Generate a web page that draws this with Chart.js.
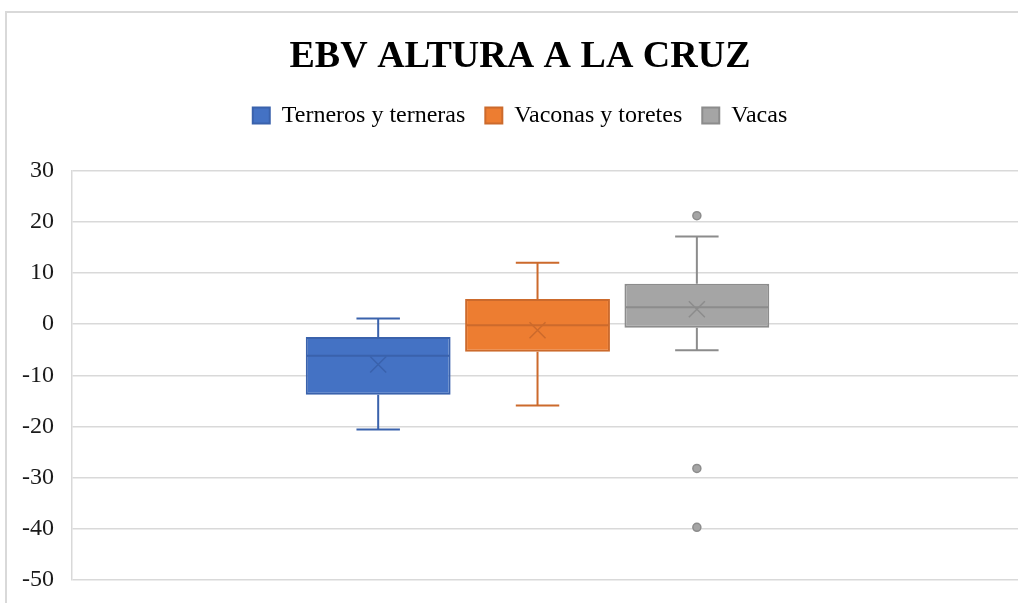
<!DOCTYPE html>
<html>
<head>
<meta charset="utf-8">
<script src="https://cdn.jsdelivr.net/npm/chart.js@4.4.0/dist/chart.umd.min.js"></script>
<style>
    html, body { margin: 0; padding: 0; background: #fff; overflow: hidden; }
    #frame {
        position: absolute;
        left: 5px;
        top: 11px;
        width: 2000px;
        height: 2000px;
        border: 2px solid #d9d9d9;
    }
    #wrap { position: absolute; left: 0; top: 0; width: 1018px; height: 603px; }
</style>
</head>
<body>
<div id="frame"></div>
<div id="wrap"><canvas id="boxChart"></canvas></div>
<script>
const groups = ["Terneros y terneras", "Vaconas y toretes", "Vacas"];
const minValues = [-20.6, -15.9, -5.1];
const q1Values = [-13.8, -5.4, -0.7];
const medianValues = [-6.2, -0.2, 3.3];
const q3Values = [-2.5, 4.9, 7.9];
const maxValues = [1.1, 12.0, 17.1];
const meanValues = [-7.9, -1.2, 2.9];
const outlierValues = [[], [], [21.2, -28.2, -39.7]];

const fillColors = ["#4472C4", "#ED7D31", "#A5A5A5"];
const lineColors = ["#3A62AC", "#CC6A2C", "#8C8C8C"];

const serif = "'Liberation Serif', 'Times New Roman', serif";

// whiskers, median, mean and outliers drawn on top of the floating bars
const boxExtras = {
    id: "boxExtras",
    afterDatasetsDraw(chart) {
        const ctx = chart.ctx;
        const y = chart.scales.y;
        groups.forEach((g, i) => {
            const bar = chart.getDatasetMeta(i).data[0];
            if (!bar) return;
            const cx = bar.x;
            const half = bar.width / 2;
            const cap = bar.width * 0.15;
            ctx.save();
            ctx.strokeStyle = lineColors[i];
            ctx.lineWidth = 2;
            ctx.beginPath();
            // upper whisker
            ctx.moveTo(cx, y.getPixelForValue(q3Values[i]));
            ctx.lineTo(cx, y.getPixelForValue(maxValues[i]));
            ctx.moveTo(cx - cap, y.getPixelForValue(maxValues[i]));
            ctx.lineTo(cx + cap, y.getPixelForValue(maxValues[i]));
            // lower whisker
            ctx.moveTo(cx, y.getPixelForValue(q1Values[i]));
            ctx.lineTo(cx, y.getPixelForValue(minValues[i]));
            ctx.moveTo(cx - cap, y.getPixelForValue(minValues[i]));
            ctx.lineTo(cx + cap, y.getPixelForValue(minValues[i]));
            // median
            ctx.moveTo(cx - half + 1, y.getPixelForValue(medianValues[i]));
            ctx.lineTo(cx + half - 1, y.getPixelForValue(medianValues[i]));
            ctx.stroke();
            // mean marker
            const my = y.getPixelForValue(meanValues[i]);
            ctx.lineWidth = 1.5;
            ctx.beginPath();
            ctx.moveTo(cx - 8, my - 8);
            ctx.lineTo(cx + 8, my + 8);
            ctx.moveTo(cx + 8, my - 8);
            ctx.lineTo(cx - 8, my + 8);
            ctx.stroke();
            // outliers
            outlierValues[i].forEach((v) => {
                ctx.beginPath();
                ctx.arc(cx, y.getPixelForValue(v), 4, 0, Math.PI * 2);
                ctx.fillStyle = fillColors[i];
                ctx.fill();
                ctx.lineWidth = 1.5;
                ctx.stroke();
            });
            ctx.restore();
        });
    },
};

const chartData = {
    datasets: groups.map((g, i) => ({
        label: g,
        data: [{ x: 0, y: [q1Values[i], q3Values[i]] }],
        backgroundColor: fillColors[i],
        borderColor: lineColors[i],
        borderWidth: 2,
        borderSkipped: false,
        categoryPercentage: 0.5053,
        barPercentage: 0.909,
    })),
};

new Chart(document.getElementById("boxChart"), {
    type: "bar",
    data: chartData,
    plugins: [boxExtras],
    options: {
        responsive: true,
        maintainAspectRatio: false,
        animation: false,
        layout: {
            padding: { left: 21, right: -1, top: 0, bottom: 23 },
        },
        plugins: {
            title: {
                display: true,
                text: "EBV ALTURA A LA CRUZ",
                color: "#000",
                font: { family: serif, size: 38, weight: "bold" },
                padding: { top: 34, bottom: 4 },
            },
            subtitle: {
                display: true,
                text: "",
                weight: 500,
                font: { size: 10, lineHeight: 1 },
                padding: { top: 11, bottom: 12 },
            },
            legend: {
                position: "top",
                labels: {
                    boxWidth: 17,
                    boxHeight: 16,
                    padding: 20,
                    color: "#000",
                    font: { family: serif, size: 24 },
                },
            },
            tooltip: { enabled: false },
        },
        scales: {
            x: {
                type: "linear",
                display: false,
                min: -0.4921,
                max: 0.5079,
                afterBuildTicks: (scale) => {
                    scale.ticks = [];
                },
            },
            y: {
                min: -50,
                max: 30,
                afterFit: (scale) => {
                    scale.width = 51;
                },
                ticks: {
                    stepSize: 10,
                    padding: 18,
                    color: "#1a1a1a",
                    font: { family: serif, size: 24, lineHeight: 0.4 },
                },
                grid: {
                    color: "#d9d9d9",
                    lineWidth: 1.5,
                    drawTicks: false,
                },
                border: {
                    display: true,
                    color: "#d9d9d9",
                    width: 1.5,
                },
            },
        },
    },
});
</script>
</body>
</html>
